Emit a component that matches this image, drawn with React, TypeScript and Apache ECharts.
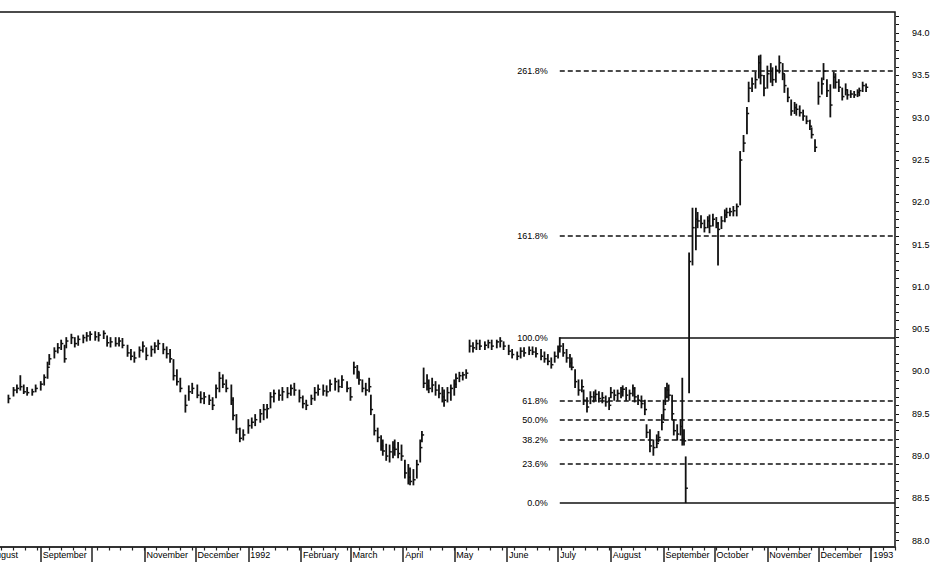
import React, { useEffect, useRef } from 'react';
import * as echarts from 'echarts';

// Day offsets from 1 Aug 1991; each bar: [day, high, low, close]
const q3_1991 = [
  [12, 89.72, 89.63, 89.68], [15, 89.81, 89.71, 89.78], [17, 89.84, 89.75, 89.8], [19, 89.95, 89.78, 89.82],
  [21, 89.84, 89.74, 89.76], [23, 89.81, 89.72, 89.75], [26, 89.79, 89.72, 89.76], [28, 89.84, 89.76, 89.8],
  [31, 89.88, 89.78, 89.85], [33, 89.96, 89.84, 89.93], [35, 90.11, 89.92, 90.05], [36, 90.2, 90.08, 90.15],
  [39, 90.28, 90.16, 90.24], [41, 90.33, 90.22, 90.28], [43, 90.37, 90.26, 90.33], [45, 90.31, 90.11, 90.15],
  [46, 90.4, 90.28, 90.36], [49, 90.44, 90.33, 90.4], [51, 90.4, 90.29, 90.33], [53, 90.42, 90.31, 90.38],
  [56, 90.43, 90.34, 90.4], [58, 90.46, 90.36, 90.42], [60, 90.47, 90.37, 90.44], [63, 90.47, 90.37, 90.41],
  [65, 90.46, 90.36, 90.43], [68, 90.48, 90.39, 90.45], [70, 90.42, 90.3, 90.34], [72, 90.4, 90.29, 90.35],
  [75, 90.4, 90.3, 90.33], [77, 90.4, 90.3, 90.36], [79, 90.39, 90.28, 90.31], [82, 90.31, 90.18, 90.22],
  [84, 90.26, 90.14, 90.18], [86, 90.23, 90.11, 90.16], [89, 90.29, 90.17, 90.25], [91, 90.35, 90.23, 90.3],
];

const q4_1991 = [
  [93, 90.28, 90.14, 90.19], [96, 90.3, 90.18, 90.26], [98, 90.34, 90.22, 90.3], [100, 90.37, 90.26, 90.33],
  [103, 90.33, 90.21, 90.26], [105, 90.29, 90.16, 90.21], [107, 90.26, 90.11, 90.15], [109, 90.14, 89.9, 89.95],
  [111, 90.02, 89.84, 89.88], [113, 89.92, 89.76, 89.8], [116, 89.72, 89.52, 89.6], [118, 89.83, 89.66, 89.76],
  [120, 89.86, 89.74, 89.8], [123, 89.84, 89.69, 89.72], [125, 89.76, 89.63, 89.68], [127, 89.75, 89.62, 89.7],
  [130, 89.72, 89.61, 89.66], [132, 89.69, 89.55, 89.6], [134, 89.84, 89.69, 89.8], [136, 89.99, 89.76, 89.92],
  [138, 89.96, 89.81, 89.85], [140, 89.9, 89.76, 89.8], [143, 89.84, 89.61, 89.66], [144, 89.69, 89.43, 89.48],
  [146, 89.49, 89.27, 89.32], [148, 89.33, 89.17, 89.21], [150, 89.31, 89.19, 89.25],
];

const q1_1992 = [
  [153, 89.43, 89.27, 89.36], [155, 89.45, 89.33, 89.4], [157, 89.49, 89.36, 89.43], [160, 89.55, 89.4, 89.5],
  [162, 89.61, 89.43, 89.55], [164, 89.61, 89.45, 89.56], [166, 89.75, 89.57, 89.7], [168, 89.78, 89.64, 89.74],
  [171, 89.78, 89.66, 89.72], [173, 89.81, 89.66, 89.76], [176, 89.81, 89.69, 89.74], [178, 89.84, 89.72, 89.8],
  [180, 89.86, 89.72, 89.78], [183, 89.78, 89.64, 89.69], [185, 89.71, 89.57, 89.62], [187, 89.66, 89.55, 89.6],
  [190, 89.72, 89.61, 89.68], [192, 89.81, 89.66, 89.75], [194, 89.84, 89.72, 89.79], [197, 89.84, 89.72, 89.77],
  [199, 89.83, 89.71, 89.76], [201, 89.9, 89.77, 89.85], [204, 89.92, 89.78, 89.88], [206, 89.9, 89.76, 89.82],
  [208, 89.95, 89.81, 89.9], [211, 89.88, 89.76, 89.8], [213, 89.81, 89.66, 89.7], [215, 90.11, 89.97, 90.05],
  [217, 90.07, 89.92, 90.0], [218, 89.99, 89.85, 89.9], [220, 89.9, 89.76, 89.8], [222, 89.86, 89.72, 89.78],
  [224, 89.92, 89.76, 89.82], [225, 89.72, 89.49, 89.55], [227, 89.49, 89.25, 89.3], [229, 89.33, 89.17, 89.22],
  [231, 89.24, 89.07, 89.12], [232, 89.19, 89.01, 89.06], [234, 89.14, 88.95, 89.0], [236, 89.13, 88.93, 89.05],
  [238, 89.17, 88.98, 89.1], [239, 89.19, 89.01, 89.08], [241, 89.16, 88.98, 89.03], [243, 89.13, 88.95, 89.0],
];

const q2_1992 = [
  [245, 88.95, 88.74, 88.8], [247, 88.9, 88.67, 88.75], [248, 88.86, 88.66, 88.7], [250, 88.84, 88.66, 88.72],
  [252, 88.95, 88.74, 88.9], [254, 89.19, 88.93, 89.1], [255, 89.29, 89.17, 89.25], [256, 90.04, 89.81, 89.86],
  [258, 89.96, 89.78, 89.83], [259, 89.9, 89.75, 89.8], [261, 89.92, 89.76, 89.84], [263, 89.88, 89.72, 89.78],
  [265, 89.84, 89.69, 89.74], [267, 89.81, 89.64, 89.7], [268, 89.78, 89.59, 89.66], [270, 89.81, 89.64, 89.75],
  [272, 89.84, 89.66, 89.8], [274, 89.9, 89.72, 89.85], [275, 89.97, 89.81, 89.92], [277, 89.99, 89.88, 89.95],
  [279, 89.99, 89.9, 89.96], [281, 90.02, 89.92, 89.98], [283, 90.37, 90.23, 90.3], [285, 90.34, 90.23, 90.28],
  [287, 90.37, 90.26, 90.33], [289, 90.37, 90.26, 90.3], [292, 90.35, 90.26, 90.31], [294, 90.37, 90.28, 90.34],
  [296, 90.37, 90.26, 90.3], [299, 90.37, 90.28, 90.35], [301, 90.4, 90.29, 90.36], [303, 90.35, 90.26, 90.3],
  [306, 90.31, 90.2, 90.24], [308, 90.26, 90.16, 90.2], [311, 90.23, 90.14, 90.18], [313, 90.28, 90.16, 90.24],
  [315, 90.28, 90.18, 90.22], [318, 90.29, 90.2, 90.25], [320, 90.29, 90.2, 90.23], [322, 90.28, 90.17, 90.21],
  [325, 90.26, 90.14, 90.18], [327, 90.23, 90.11, 90.15], [329, 90.2, 90.08, 90.12], [331, 90.16, 90.04, 90.08],
  [333, 90.23, 90.11, 90.18],
];

const q3_1992 = [
  [335, 90.3, 90.16, 90.26], [336, 90.4, 90.23, 90.3], [338, 90.33, 90.18, 90.22], [340, 90.26, 90.11, 90.16],
  [342, 90.2, 90.05, 90.1], [343, 90.16, 90.02, 90.05], [345, 90.02, 89.81, 89.88], [347, 89.9, 89.72, 89.78],
  [349, 89.9, 89.76, 89.82], [350, 89.78, 89.61, 89.66], [352, 89.69, 89.52, 89.58], [354, 89.76, 89.62, 89.7],
  [356, 89.76, 89.64, 89.7], [357, 89.78, 89.66, 89.73], [359, 89.76, 89.64, 89.68], [361, 89.75, 89.63, 89.69],
  [363, 89.71, 89.59, 89.64], [365, 89.69, 89.55, 89.6], [366, 89.81, 89.69, 89.75], [368, 89.78, 89.66, 89.72],
  [370, 89.78, 89.66, 89.74], [372, 89.81, 89.69, 89.76], [373, 89.83, 89.71, 89.79], [375, 89.81, 89.66, 89.72],
  [377, 89.78, 89.66, 89.74], [379, 89.84, 89.71, 89.8], [380, 89.81, 89.64, 89.7], [382, 89.72, 89.61, 89.66],
  [384, 89.71, 89.57, 89.62], [386, 89.66, 89.49, 89.55], [387, 89.37, 89.22, 89.28], [389, 89.31, 89.05, 89.12],
  [391, 89.19, 89.01, 89.1], [393, 89.25, 89.1, 89.15], [394, 89.29, 89.17, 89.22], [396, 89.49, 89.31, 89.4],
  [397, 89.66, 89.43, 89.55], [398, 89.81, 89.61, 89.7], [399, 89.86, 89.69, 89.78], [400, 89.84, 89.66, 89.72],
  [402, 89.72, 89.43, 89.5], [403, 89.43, 89.25, 89.3], [405, 89.37, 89.19, 89.26], [407, 89.43, 89.25, 89.35],
  [408, 89.92, 89.13, 89.2], [409, 89.31, 89.13, 89.18], [410, 88.99, 88.45, 88.62], [412, 91.4, 89.75, 91.3],
  [414, 91.93, 91.26, 91.7], [416, 91.93, 91.44, 91.8], [417, 91.88, 91.7, 91.78], [419, 91.84, 91.7, 91.75],
  [421, 91.79, 91.65, 91.7], [423, 91.83, 91.7, 91.78], [424, 91.85, 91.64, 91.72], [426, 91.86, 91.72, 91.8],
];

const q4_1992 = [
  [428, 91.82, 91.7, 91.75], [429, 91.76, 91.26, 91.68], [431, 91.83, 91.69, 91.78], [433, 91.91, 91.77, 91.85],
  [434, 91.93, 91.82, 91.88], [436, 91.93, 91.84, 91.89], [438, 91.95, 91.84, 91.9], [440, 91.98, 91.84, 91.95],
  [442, 92.6, 91.97, 92.5], [444, 92.79, 92.6, 92.7], [446, 93.12, 92.81, 93.05], [447, 93.42, 93.19, 93.35],
  [449, 93.47, 93.31, 93.4], [451, 93.54, 93.35, 93.45], [453, 93.73, 93.47, 93.65], [454, 93.74, 93.4, 93.5],
  [456, 93.5, 93.26, 93.35], [458, 93.61, 93.35, 93.52], [460, 93.64, 93.42, 93.55], [461, 93.59, 93.38, 93.45],
  [463, 93.61, 93.42, 93.56], [465, 93.73, 93.53, 93.65], [467, 93.64, 93.45, 93.52], [468, 93.51, 93.3, 93.38],
  [470, 93.35, 93.19, 93.24], [472, 93.21, 93.03, 93.08], [474, 93.18, 93.05, 93.12], [475, 93.16, 93.03, 93.1],
  [477, 93.14, 93.02, 93.06], [479, 93.09, 92.97, 93.02], [481, 93.02, 92.93, 92.96], [483, 92.97, 92.86, 92.9],
  [484, 92.88, 92.76, 92.8], [486, 92.74, 92.6, 92.65], [488, 93.42, 93.16, 93.25], [490, 93.47, 93.28, 93.4],
  [491, 93.64, 93.45, 93.55], [493, 93.45, 93.25, 93.32], [495, 93.39, 93.01, 93.15], [497, 93.54, 93.35, 93.48],
  [498, 93.52, 93.35, 93.42], [500, 93.45, 93.31, 93.36], [502, 93.35, 93.21, 93.25], [504, 93.4, 93.27, 93.33],
  [505, 93.33, 93.22, 93.27], [507, 93.32, 93.24, 93.28], [509, 93.31, 93.24, 93.27], [511, 93.33, 93.25, 93.3],
  [512, 93.35, 93.26, 93.32], [514, 93.42, 93.31, 93.38], [516, 93.4, 93.31, 93.36],
];

// Month boundaries (day offsets from 1 Aug 1991) and their labels
const monthStarts = [0, 31, 61, 92, 122, 153, 184, 213, 244, 274, 305, 335, 366, 397, 427, 458, 488, 519];
const monthLabels = ['August', 'September', '', 'November', 'December', '1992', 'February', 'March', 'April',
  'May', 'June', 'July', 'August', 'September', 'October', 'November', 'December', '1993'];

const yTickLabels = [88.0, 88.5, 89.0, 89.5, 90.0, 90.5, 91.0, 91.5, 92.0, 92.5, 93.0, 93.5, 94.0];

// Fibonacci retracement / extension
const fibLow = 88.45;
const fibHigh = 90.4;
const fibStartDay = 336;
const fibRatios = [0, 0.236, 0.382, 0.5, 0.618, 1, 1.618, 2.618];
const fibLabels = ['0.0%', '23.6%', '38.2%', '50.0%', '61.8%', '100.0%', '161.8%', '261.8%'];

const X_MIN = 0;
const X_MAX = 533;
const Y_MIN = 87.925;
const Y_MAX = 94.25;
const FONT = '"Liberation Sans", Arial, sans-serif';

const SHIFT = 13; // part of the plot lies left of the visible page
const W = 933 + SHIFT;
const H = 562;
const GRID = { left: 0, right: 38, top: 12, bottom: 15 };

export default function App() {
  const ref = useRef<HTMLDivElement>(null);

  useEffect(() => {
    if (!ref.current) return;
    const chart = echarts.init(ref.current, undefined, { renderer: 'svg' });
    const bars = [...q3_1991, ...q4_1991, ...q1_1992, ...q2_1992, ...q3_1992, ...q4_1992];

    const minorY: number[] = [];
    for (let v = 880; v <= 942; v++) minorY.push(v / 10);
    const weekly: number[] = [];
    for (let d = 1; d <= X_MAX; d += 7) weekly.push(d);

    const gridW = W - GRID.left - GRID.right;
    const gridH = H - GRID.top - GRID.bottom;

    const fibData = fibRatios.map((r, i) => {
      const level = fibLow + r * (fibHigh - fibLow);
      const solid = r === 0 || r === 1;
      return [
        {
          coord: [fibStartDay, level],
          lineStyle: { type: solid ? 'solid' : [5, 3], width: solid ? 1.5 : 1.6, color: '#111' },
          label: { formatter: fibLabels[i] },
        },
        { coord: [X_MAX, level] },
      ];
    });

    chart.setOption({
      animation: false,
      backgroundColor: '#fff',
      grid: { ...GRID, show: true, borderColor: '#111', borderWidth: 1.5 },
      xAxis: [
        {
          type: 'value', min: X_MIN, max: X_MAX, position: 'bottom',
          axisLine: { show: true, lineStyle: { color: '#333', width: 2 } },
          axisTick: { show: true, customValues: monthStarts, length: 15, lineStyle: { color: '#222', width: 1.5 } },
          axisLabel: {
            customValues: monthStarts.filter((_, i) => monthLabels[i] !== ''),
            formatter: (v: number) => monthLabels[monthStarts.indexOf(v)],
            align: 'left', margin: 3, fontSize: 9, color: '#000', fontFamily: FONT, padding: [0, 0, 0, 2],
          },
          splitLine: { show: false },
        },
        {
          type: 'value', min: X_MIN, max: X_MAX, position: 'top', offset: -gridH,
          axisLine: { show: false },
          axisTick: { show: true, inside: true, customValues: weekly, length: 3.5, lineStyle: { color: '#222', width: 1.2 } },
          axisLabel: { show: false },
          splitLine: { show: false },
        },
      ],
      yAxis: [
        {
          type: 'value', min: Y_MIN, max: Y_MAX, position: 'right',
          axisLine: { show: true, lineStyle: { color: '#111', width: 1.5 } },
          axisTick: { show: true, customValues: yTickLabels, length: 6, lineStyle: { color: '#111', width: 1.2 } },
          axisLabel: {
            customValues: yTickLabels, formatter: (v: number) => v.toFixed(1),
            margin: 17, fontSize: 9, color: '#000', fontFamily: FONT,
          },
          splitLine: { show: false },
        },
        {
          type: 'value', min: Y_MIN, max: Y_MAX, position: 'left', offset: -gridW,
          axisLine: { show: false },
          axisTick: { show: true, inside: true, customValues: minorY, length: 3, lineStyle: { color: '#111', width: 1 } },
          axisLabel: { show: false },
          splitLine: { show: false },
        },
      ],
      series: [
        {
          type: 'custom',
          xAxisIndex: 0,
          yAxisIndex: 0,
          clip: true,
          data: bars,
          encode: { x: 0, y: [1, 2, 3] },
          renderItem: (_params: any, api: any) => {
            const d = api.value(0);
            const hi = api.coord([d, api.value(1)]);
            const lo = api.coord([d, api.value(2)]);
            const cl = api.coord([d, api.value(3)]);
            return {
              type: 'group',
              children: [
                { type: 'line', shape: { x1: hi[0], y1: hi[1] - 0.5, x2: lo[0], y2: lo[1] + 0.5 }, style: { stroke: '#111', lineWidth: 1.8 } },
                { type: 'line', shape: { x1: cl[0], y1: cl[1], x2: cl[0] + 2.2, y2: cl[1] }, style: { stroke: '#111', lineWidth: 1.5 } },
              ],
            };
          },
          markLine: {
            silent: true,
            symbol: ['none', 'none'],
            animation: false,
            label: { show: true, position: 'start', distance: 12, fontSize: 9, color: '#000', fontFamily: FONT },
            data: fibData,
          },
        },
      ],
    });

    return () => chart.dispose();
  }, []);

  return <div ref={ref} style={{ position: 'fixed', left: -SHIFT, top: 0, width: W, height: H }} />;
}
